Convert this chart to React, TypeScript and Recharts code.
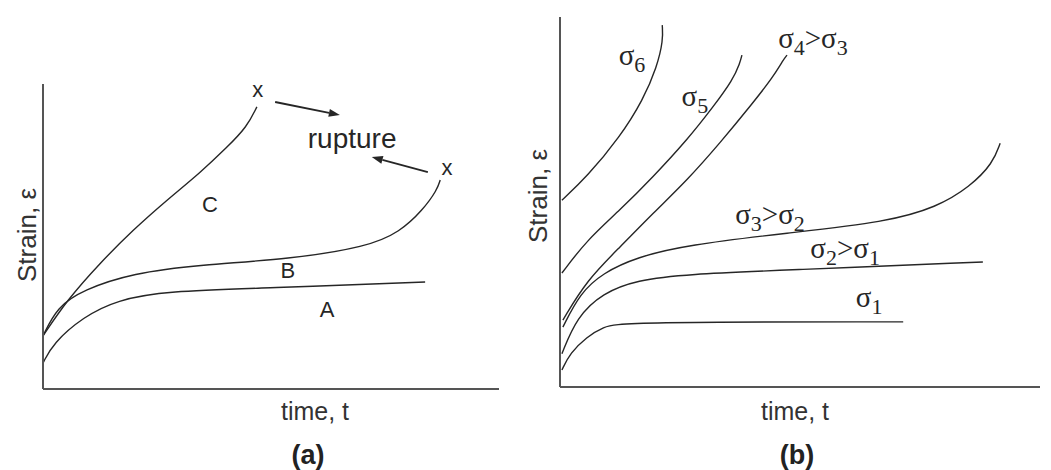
import React from 'react';
import { ComposedChart, Line, Scatter, XAxis, YAxis, ReferenceLine } from 'recharts';

type Pt = { t: number; e: number };
type Tag = { t: number; e: number; text: string };

// (a) creep curves: A low stress, B medium, C high stress
const curveA: Pt[] = [
  { t: 0, e: 8.5 }, { t: 2.2, e: 15 }, { t: 8.8, e: 23.6 }, { t: 16.2, e: 29.2 },
  { t: 27.2, e: 32.1 }, { t: 49.1, e: 33.1 }, { t: 83.8, e: 35.1 },
];
const curveB: Pt[] = [
  { t: 0, e: 17.4 }, { t: 3.1, e: 26.9 }, { t: 8.8, e: 32.5 }, { t: 19.7, e: 38 },
  { t: 34.4, e: 40.7 }, { t: 54.2, e: 42.6 }, { t: 71.1, e: 46.6 }, { t: 78.3, e: 51.5 },
  { t: 83.3, e: 58.7 }, { t: 86.4, e: 65.2 }, { t: 87.1, e: 68.5 },
];
const curveC: Pt[] = [
  { t: 0, e: 17.4 }, { t: 5.3, e: 29.2 }, { t: 12.5, e: 41.3 }, { t: 19.7, e: 52.1 },
  { t: 27.2, e: 62 }, { t: 34.4, e: 70.8 }, { t: 40.4, e: 79.3 }, { t: 44.7, e: 85.9 },
  { t: 46.9, e: 92.5 },
];
const curveTagsA: Tag[] = [
  { t: 36.6, e: 58, text: 'C' },
  { t: 53.7, e: 36.4, text: 'B' },
  { t: 62.3, e: 23.6, text: 'A' },
];
const ruptureMarks: Tag[] = [
  { t: 47.1, e: 95.7, text: 'x' },
  { t: 88.6, e: 70.2, text: 'x' },
];
const ruptureNote: Tag[] = [{ t: 67.8, e: 79, text: 'rupture' }];
const ruptureArrows: [Pt, Pt][] = [
  [{ t: 50.9, e: 94.1 }, { t: 65.1, e: 89.8 }],
  [{ t: 84.4, e: 71.1 }, { t: 72.1, e: 76.1 }],
];

// (b) creep curves for increasing stress σ1 .. σ6
const sigma1: Pt[] = [
  { t: 0.4, e: 4.6 }, { t: 2.1, e: 9.2 }, { t: 5.6, e: 13.5 }, { t: 8.9, e: 16.2 },
  { t: 13.1, e: 17.6 }, { t: 71.5, e: 17.6 },
];
const sigma2: Pt[] = [
  { t: 0.4, e: 9 }, { t: 3.5, e: 18.9 }, { t: 8.9, e: 25.4 }, { t: 16, e: 28.9 },
  { t: 26.5, e: 30.5 }, { t: 47.3, e: 31.6 }, { t: 88.1, e: 33.8 },
];
const sigma3: Pt[] = [
  { t: 0.6, e: 16.2 }, { t: 4.2, e: 25.4 }, { t: 8.9, e: 30.8 }, { t: 16, e: 35.1 },
  { t: 26.5, e: 38.4 }, { t: 47.3, e: 41.6 }, { t: 68.1, e: 44.6 }, { t: 78.5, e: 48.6 },
  { t: 85.4, e: 54.1 }, { t: 90.2, e: 60.5 }, { t: 91.7, e: 65.9 },
];
const sigma4: Pt[] = [
  { t: 0.6, e: 18.1 }, { t: 5.6, e: 28.9 }, { t: 12.5, e: 37.8 }, { t: 19.4, e: 47 },
  { t: 26.5, e: 55.9 }, { t: 33.3, e: 65.9 }, { t: 40.2, e: 76.8 }, { t: 44.4, e: 83.8 },
  { t: 46.5, e: 88.4 }, { t: 47.3, e: 89.7 },
];
const sigma5: Pt[] = [
  { t: 0.4, e: 30.8 }, { t: 5.6, e: 39.7 }, { t: 12.5, e: 47.8 }, { t: 19.4, e: 56.8 },
  { t: 26.5, e: 66.8 }, { t: 31.9, e: 75.7 }, { t: 36, e: 83 }, { t: 37.5, e: 87.6 },
  { t: 37.9, e: 89.7 },
];
const sigma6: Pt[] = [
  { t: 0.4, e: 50.5 }, { t: 5.6, e: 56.8 }, { t: 12.5, e: 67.6 }, { t: 17.3, e: 77.6 },
  { t: 20.2, e: 86.5 }, { t: 21.5, e: 93.8 }, { t: 21.3, e: 97.8 },
];
const curveTagsB: Tag[] = [
  { t: 15, e: 87, text: 'σ_6' },
  { t: 28.1, e: 75.9, text: 'σ_5' },
  { t: 52.7, e: 91.6, text: 'σ_4>σ_3' },
  { t: 43.75, e: 44.1, text: 'σ_3>σ_2' },
  { t: 59.4, e: 34.9, text: 'σ_2>σ_1' },
  { t: 64.4, e: 21.6, text: 'σ_1' },
];

const INK = '#262626';
const AXIS = '#555';
const SANS = 'Arial, "Liberation Sans", sans-serif';
const SERIF = '"Times New Roman", "Liberation Serif", serif';

// text drawn at a data point; "_4" style pieces become subscripts
const textShape = (size: number, family: string, subSize = size, shift = 0) => (props: any) => {
  const { cx, cy, payload } = props;
  const parts: string[] = String(payload.text).split(/_(\d)/);
  let down = false;
  return (
    <text x={cx} y={cy} textAnchor="middle" fontSize={size} fontFamily={family} fill={INK}>
      {parts.map((p, i) => {
        if (p === '') return null;
        const isSub = i % 2 === 1;
        const dy = isSub ? (down ? 0 : shift) : down ? -shift : 0;
        down = isSub;
        return (
          <tspan key={i} dy={dy} fontSize={isSub ? subSize : size}>
            {p}
          </tspan>
        );
      })}
    </text>
  );
};

const Arrow = (props: any) => {
  const { x1, y1, x2, y2 } = props;
  const len = Math.hypot(x2 - x1, y2 - y1) || 1;
  const ux = (x2 - x1) / len;
  const uy = (y2 - y1) / len;
  const head = 11;
  const half = 4;
  const bx = x2 - ux * head;
  const by = y2 - uy * head;
  return (
    <g>
      <line x1={x1} y1={y1} x2={bx} y2={by} stroke={INK} strokeWidth={1.8} />
      <polygon
        points={`${x2},${y2} ${bx - uy * half},${by + ux * half} ${bx + uy * half},${by - ux * half}`}
        fill={INK}
      />
    </g>
  );
};

const axisLine = { stroke: AXIS, strokeWidth: 2 };

const curve = (data: Pt[], key: string) => (
  <Line key={key} data={data} dataKey="e" type="basis" stroke={INK} strokeWidth={1.4}
    dot={false} activeDot={false} isAnimationActive={false} />
);

const caption: React.CSSProperties = {
  position: 'absolute',
  fontFamily: SANS,
  color: '#333',
  whiteSpace: 'nowrap',
  transform: 'translate(-50%, -50%)',
};

export default function App() {
  return (
    <div style={{ position: 'absolute', left: 0, top: 0, width: 1051, height: 470, background: '#fff', overflow: 'hidden' }}>
      <div style={{ position: 'absolute', left: 0, top: 0 }}>
        <ComposedChart width={520} height={470} margin={{ top: 84, right: 21, bottom: 79, left: 41 }}>
          <XAxis dataKey="t" type="number" domain={[0, 100]} height={2} tick={false} tickLine={false} axisLine={axisLine} />
          <YAxis type="number" domain={[0, 100]} width={2} tick={false} tickLine={false} axisLine={axisLine} />
          {curve(curveA, 'A')}
          {curve(curveB, 'B')}
          {curve(curveC, 'C')}
          <Scatter data={curveTagsA} dataKey="e" shape={textShape(22, SANS)} isAnimationActive={false} />
          <Scatter data={ruptureMarks} dataKey="e" shape={textShape(22, SANS)} isAnimationActive={false} />
          <Scatter data={ruptureNote} dataKey="e" shape={textShape(28, SANS)} isAnimationActive={false} />
          {ruptureArrows.map(([a, b], i) => (
            <ReferenceLine key={i} segment={[{ x: a.t, y: a.e }, { x: b.t, y: b.e }]} shape={Arrow} />
          ))}
        </ComposedChart>
      </div>

      <div style={{ position: 'absolute', left: 520, top: 0 }}>
        <ComposedChart width={531} height={470} margin={{ top: 17, right: 11, bottom: 81, left: 38 }}>
          <XAxis dataKey="t" type="number" domain={[0, 100]} height={2} tick={false} tickLine={false} axisLine={axisLine} />
          <YAxis type="number" domain={[0, 100]} width={2} tick={false} tickLine={false} axisLine={axisLine} />
          {curve(sigma1, 's1')}
          {curve(sigma2, 's2')}
          {curve(sigma3, 's3')}
          {curve(sigma4, 's4')}
          {curve(sigma5, 's5')}
          {curve(sigma6, 's6')}
          <Scatter data={curveTagsB} dataKey="e" shape={textShape(29, SERIF, 22, 7)} isAnimationActive={false} />
        </ComposedChart>
      </div>

      <div style={{ ...caption, left: 27, top: 235, fontSize: 26, transform: 'translate(-50%, -50%) rotate(-90deg)' }}>Strain, ε</div>
      <div style={{ ...caption, left: 538, top: 196, fontSize: 26, transform: 'translate(-50%, -50%) rotate(-90deg)' }}>Strain, ε</div>
      <div style={{ ...caption, left: 315, top: 411, fontSize: 25 }}>time, t</div>
      <div style={{ ...caption, left: 795, top: 411, fontSize: 25 }}>time, t</div>
      <div style={{ ...caption, left: 308, top: 455, fontSize: 27, fontWeight: 'bold', color: '#222' }}>(a)</div>
      <div style={{ ...caption, left: 797, top: 455, fontSize: 27, fontWeight: 'bold', color: '#222' }}>(b)</div>
    </div>
  );
}
